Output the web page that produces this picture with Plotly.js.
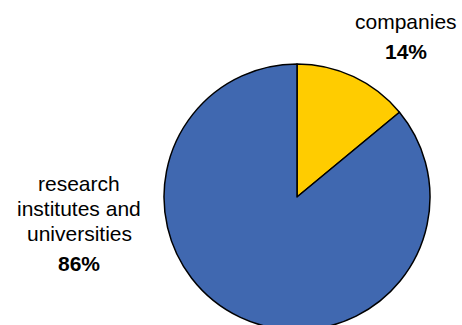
<!DOCTYPE html>
<html>
<head>
<meta charset="utf-8">
<script src="https://cdn.plot.ly/plotly-3.0.1.min.js"></script>
<style>
html,body{margin:0;padding:0;width:462px;height:325px;overflow:hidden;background:#fff;}
#chart{width:462px;height:340px;}
</style>
</head>
<body>
<div id="chart"></div>
<script>
// Data
var categories = ['companies', 'research institutes and universities'];
var shares = [14, 86];
var labelLines = [['companies'], ['research', 'institutes and', 'universities']];
var sliceColors = ['#FFCC00', '#4068B0'];

var W = 462, H = 340;
var font = 'Liberation Sans, Arial, sans-serif';

// label placement (pixel centers) per category
var labelPos = [
  {x: 406, ys: [21], py: 51},
  {x: 79, ys: [183, 208, 233], py: 263}
];

var annotations = [];
categories.forEach(function(c, i){
  var p = labelPos[i];
  labelLines[i].forEach(function(line, j){
    annotations.push({
      xref:'paper', yref:'paper', x: p.x / W, y: (H - p.ys[j]) / H,
      xanchor:'center', yanchor:'middle', showarrow:false,
      text: line, font:{family:font, size:21, color:'#000'}
    });
  });
  annotations.push({
    xref:'paper', yref:'paper', x: p.x / W, y: (H - p.py) / H,
    xanchor:'center', yanchor:'middle', showarrow:false,
    text: '<b>' + shares[i] + '%</b>', font:{family:font, size:21, color:'#000'}
  });
});

var trace = {
  type:'pie',
  labels: categories,
  values: shares,
  sort:false,
  direction:'clockwise',
  rotation:0,
  textinfo:'none',
  hoverinfo:'label+percent',
  marker:{colors: sliceColors, line:{color:'#000', width:1.5}},
  domain:{x:[164/W, 430/W], y:[(H-330)/H, (H-64)/H]},
  showlegend:false
};

Plotly.newPlot('chart', [trace], {
  width:W, height:H,
  margin:{l:0,r:0,t:0,b:0},
  paper_bgcolor:'#fff',
  showlegend:false,
  annotations: annotations
}, {staticPlot:true});
</script>
</body>
</html>
